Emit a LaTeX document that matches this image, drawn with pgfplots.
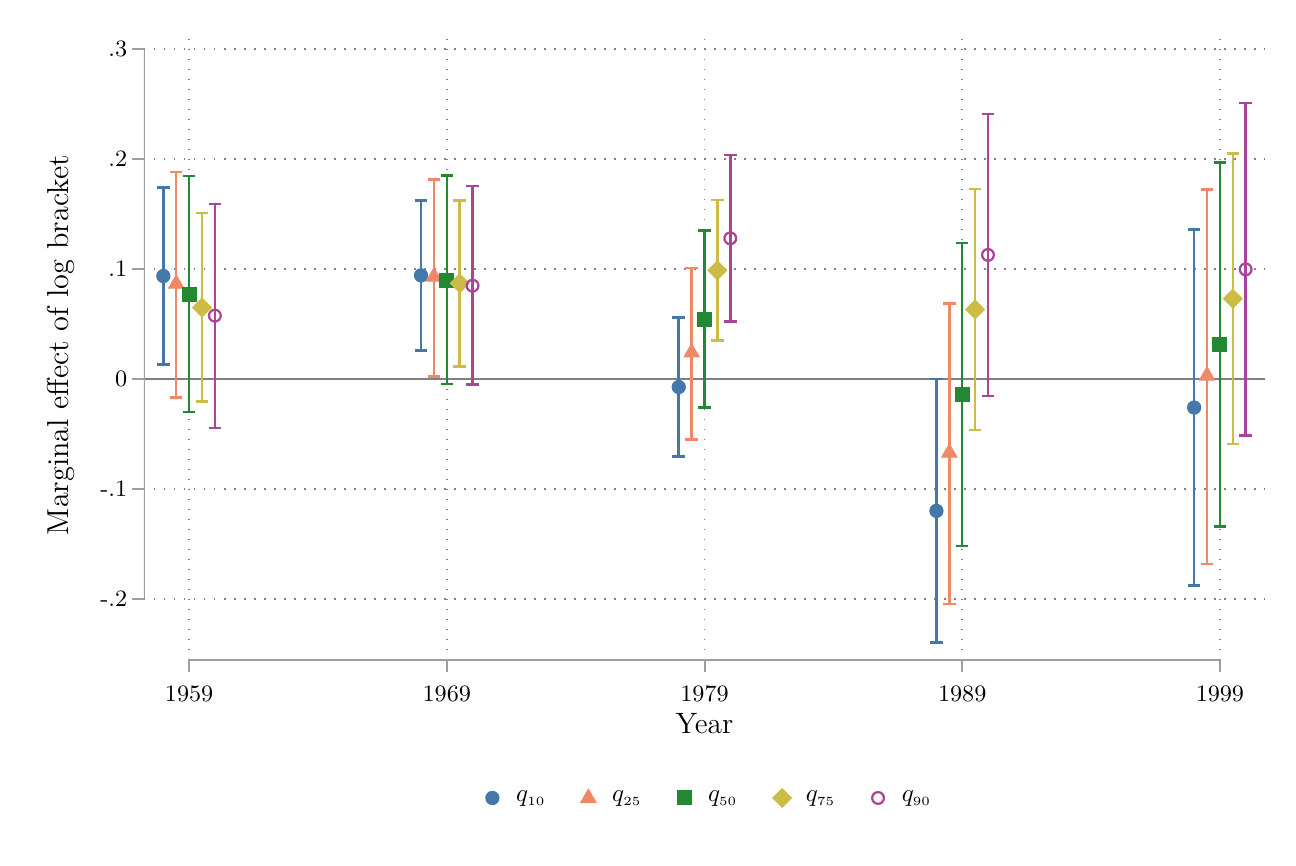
\documentclass[border=0pt]{standalone}
\usepackage{fontspec}
\usepackage{pgfplots}
\pgfplotsset{compat=1.18}
\definecolor{cqa}{HTML}{4477AA}
\definecolor{cqb}{HTML}{EE8866}
\definecolor{cqc}{HTML}{228833}
\definecolor{cqd}{HTML}{CCBB44}
\definecolor{cqe}{HTML}{AA4499}
% x  y  ep  em   (ep = upper bound - y, em = y - lower bound)
\pgfplotstableread{
x y ep em
1958.0 0.0936 0.0807 0.0806
1968.0 0.0942 0.0682 0.0685
1978.0 -0.0073 0.0634 0.0633
1988.0 -0.1199 0.1199 0.1196
1998.0 -0.0260 0.1618 0.1619
}\qa
\pgfplotstableread{
x y ep em
1958.5 0.0866 0.1014 0.1036
1968.5 0.0930 0.0885 0.0906
1978.5 0.0240 0.0769 0.0788
1988.5 -0.0670 0.1357 0.1375
1998.5 0.0030 0.1691 0.1710
}\qb
\pgfplotstableread{
x y ep em
1959.0 0.0770 0.1075 0.1070
1969.0 0.0900 0.0948 0.0945
1979.0 0.0543 0.0805 0.0803
1989.0 -0.0139 0.1377 0.1378
1999.0 0.0312 0.1655 0.1654
}\qc
\pgfplotstableread{
x y ep em
1959.5 0.0650 0.0860 0.0856
1969.5 0.0870 0.0754 0.0755
1979.5 0.0988 0.0639 0.0636
1989.5 0.0632 0.1096 0.1096
1999.5 0.0730 0.1322 0.1321
}\qd
\pgfplotstableread{
x y ep em
1960.0 0.0576 0.1014 0.1021
1970.0 0.0848 0.0907 0.0900
1980.0 0.1279 0.0757 0.0758
1990.0 0.1128 0.1280 0.1284
2000.0 0.0997 0.1512 0.1512
}\qe
\pgfplotsset{
  qbar/.style={
    error bars/error bar style={line width=1.0pt, color=#1},
    error bars/error mark=|,
    error bars/error mark options={mark size=2.5pt, line width=1.0pt, color=#1}},
}
\begin{document}
\begin{tikzpicture}
\begin{axis}[
  scale only axis, width=448.4pt, height=252pt,
  xmin=1957.25, xmax=2000.75, ymin=-0.2555, ymax=0.3173,
  axis line style={draw=none},
  xtick={1959,1969,1979,1989,1999},
  xticklabels={1959,1969,1979,1989,1999},
  ytick={-0.2,-0.1,0,0.1,0.2,0.3},
  yticklabels={-.2,-.1,0,.1,.2,.3},
  tick align=outside, major tick length=4.8pt,
  xtick pos=bottom, ytick pos=left,
  tick style={color=black!38, line width=0.8pt},
  grid=major,
  major grid style={color=black!50, line width=0.6pt, dash pattern=on 0.6pt off 3.4pt},
  ticklabel style={font=\fontsize{9.4}{11}\selectfont},
  xticklabel style={yshift=-2pt},
  yticklabel style={xshift=1.6pt},
  xlabel={Year},
  ylabel={Marginal effect of log bracket},
  every axis x label/.style={at={(axis description cs:0.5,0)}, anchor=center, yshift=-25.6pt, font=\fontsize{11.8}{14}\selectfont},
  every axis y label/.style={at={(axis description cs:-0.0745,0.5)}, rotate=90, anchor=center, font=\fontsize{12.1}{14}\selectfont},
  legend columns=5,
  legend style={at={(0.5054,-0.219)}, anchor=center, draw=none, fill=none,
    font=\fontsize{9.8}{11}\selectfont,
    /tikz/every even column/.append style={column sep=12.1pt}},
  legend image code/.code={\draw[#1] plot coordinates {(0pt,0pt)}; \path[draw=none,fill=none] (-3pt,0pt) rectangle (7.5pt,0.1pt);},
  error bars/y dir=both, error bars/y explicit,
]
\draw[black!50, line width=0.8pt] (axis cs:1957.25,0) -- (axis cs:2000.75,0);
\addplot[only marks, color=cqa, mark=*, mark size=2.65pt, qbar=cqa]
  table[x=x, y=y, y error plus=ep, y error minus=em] {\qa};
\addlegendentry{$q_{\scriptscriptstyle 10}$}
\addplot[only marks, color=cqb, mark=triangle*, mark size=3.5pt, qbar=cqb]
  table[x=x, y=y, y error plus=ep, y error minus=em] {\qb};
\addlegendentry{$q_{\scriptscriptstyle 25}$}
\addplot[only marks, color=cqc, mark=square*, mark size=2.8pt, qbar=cqc]
  table[x=x, y=y, y error plus=ep, y error minus=em] {\qc};
\addlegendentry{$q_{\scriptscriptstyle 50}$}
\addplot[only marks, color=cqd, mark=square*, mark size=2.65pt, mark options={rotate=45}, qbar=cqd]
  table[x=x, y=y, y error plus=ep, y error minus=em] {\qd};
\addlegendentry{$q_{\scriptscriptstyle 75}$}
\addplot[only marks, color=cqe, mark=o, mark size=2.35pt, mark options={line width=0.9pt}, qbar=cqe]
  table[x=x, y=y, y error plus=ep, y error minus=em] {\qe};
\addlegendentry{$q_{\scriptscriptstyle 90}$}
\draw[black!38, line width=0.8pt] (axis cs:1957.25,-0.2) -- (axis cs:1957.25,0.3);
\draw[black!38, line width=0.8pt] (axis cs:1959,-0.2555) -- (axis cs:1999,-0.2555);
\end{axis}
\pgfresetboundingbox
\path ([shift={(-57.6pt,-82pt)}]current axis.south west) rectangle ([shift={(12.4pt,12pt)}]current axis.north east);
\end{tikzpicture}
\end{document}
